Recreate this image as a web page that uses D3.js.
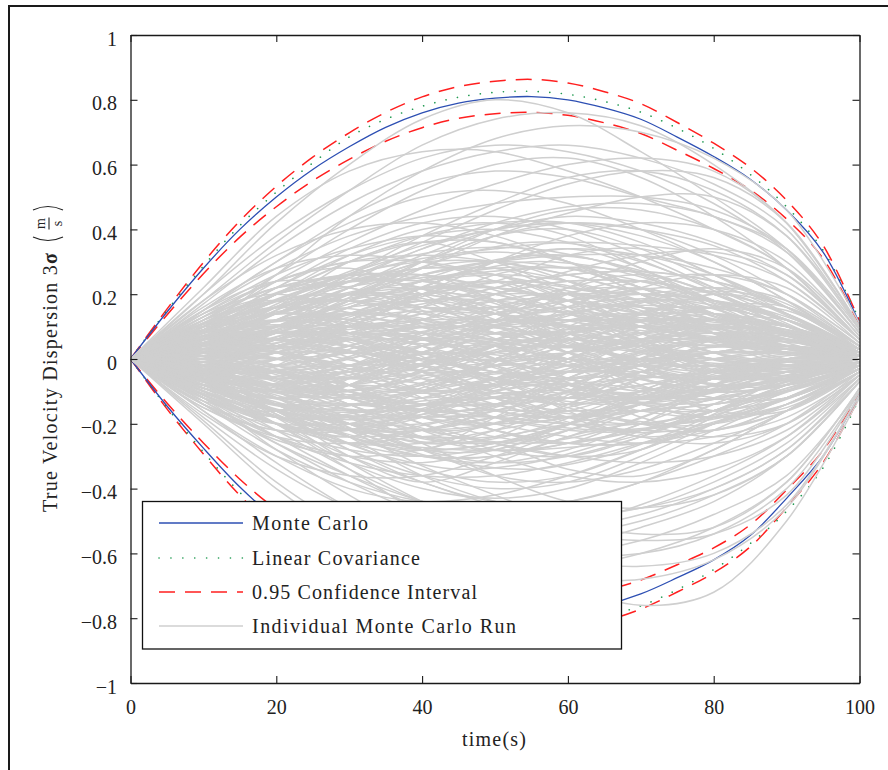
<!DOCTYPE html>
<html>
<head>
<meta charset="utf-8">
<script src="https://cdn.jsdelivr.net/npm/d3@7"></script>
<style>
  body { margin: 0; background: #fff; }
  svg { display: block; font-family: "Liberation Serif", "Times New Roman", serif; }
</style>
</head>
<body>
<svg id="chart" width="888" height="770"></svg>
<script>
// ---- data -------------------------------------------------------------
// 3-sigma curves sampled every 5 s (m/s)
const timeS = [0,5,10,15,20,25,30,35,40,45,50,55,60,65,70,75,80,85,90,95,100];
const monteCarloUpper = [0,0.145,0.28,0.40,0.50,0.585,0.655,0.715,0.76,0.79,0.805,0.81,0.80,0.775,0.74,0.685,0.625,0.555,0.46,0.33,0.11];
const monteCarloLower = [0,-0.145,-0.275,-0.395,-0.495,-0.58,-0.65,-0.705,-0.75,-0.775,-0.79,-0.79,-0.78,-0.76,-0.725,-0.675,-0.62,-0.545,-0.43,-0.30,-0.11];
const linearCovariance = [0,0.15,0.287,0.412,0.515,0.605,0.685,0.74,0.78,0.808,0.823,0.826,0.817,0.795,0.762,0.712,0.65,0.57,0.47,0.336,0.12];
const ciUpperOuter = [0,0.154,0.298,0.426,0.533,0.623,0.698,0.761,0.809,0.841,0.857,0.863,0.852,0.825,0.788,0.730,0.666,0.591,0.490,0.351,0.117];
const ciUpperInner = [0,0.136,0.263,0.376,0.470,0.550,0.616,0.672,0.714,0.743,0.757,0.761,0.752,0.729,0.696,0.644,0.588,0.522,0.432,0.310,0.103];
const ciLowerOuter = [0,-0.154,-0.293,-0.421,-0.527,-0.618,-0.692,-0.751,-0.799,-0.825,-0.841,-0.841,-0.831,-0.809,-0.772,-0.719,-0.660,-0.580,-0.458,-0.320,-0.117];
const ciLowerInner = [0,-0.136,-0.259,-0.371,-0.465,-0.545,-0.611,-0.663,-0.705,-0.729,-0.743,-0.743,-0.733,-0.714,-0.682,-0.635,-0.583,-0.512,-0.404,-0.282,-0.103];

// individual runs (batch A): every run starts at 0 at t = 0, then one value
// every 10 s from t = 10 to t = 100, in hundredths of m/s
const runTimesA = [0,10,20,30,40,50,60,70,80,90,100];
const runsA = [
  [8,18,27,35,40,42,40,35,24,6],[-6,-14,-20,-22,-20,-15,-10,-6,-3,-1],[12,22,25,22,15,6,-2,-8,-8,-2],
  [-10,-20,-30,-38,-45,-48,-46,-40,-28,-7],[3,5,10,16,22,26,27,24,17,4],[-2,-6,-4,2,10,18,24,26,20,5],
  [15,30,42,50,52,48,40,30,18,3],[-14,-25,-30,-28,-22,-14,-6,0,3,1],[5,8,6,0,-8,-15,-20,-20,-14,-3],
  [0,3,8,14,18,18,14,8,3,0],[-5,-12,-22,-33,-42,-50,-54,-52,-38,-9],[9,14,12,8,5,4,6,8,7,2],
  [-8,-10,-6,0,6,10,10,6,2,0],[20,38,52,62,66,64,58,48,33,8],[-18,-34,-46,-53,-55,-52,-45,-36,-24,-5],
  [4,12,22,30,33,30,22,13,6,1],[-3,-2,4,12,20,27,32,33,26,6],[7,10,8,2,-6,-14,-20,-24,-20,-5],
  [-11,-18,-17,-12,-6,-2,0,0,-1,0],[2,-3,-10,-18,-24,-26,-22,-16,-9,-2],[13,20,26,31,34,36,35,32,24,6],
  [-4,-9,-11,-8,-2,4,8,10,8,2],[6,15,25,34,42,47,48,44,33,8],[-9,-20,-32,-40,-43,-40,-32,-22,-12,-2],
  [1,0,-3,-5,-4,0,5,9,9,3],[10,16,18,16,10,2,-6,-12,-12,-3],[-15,-24,-26,-22,-18,-16,-16,-16,-12,-3],
  [3,9,18,28,38,45,50,50,38,10],[-7,-17,-28,-36,-40,-38,-30,-20,-10,-2],[8,12,14,17,22,26,27,24,16,4],
  [-2,-4,-8,-14,-20,-24,-26,-24,-18,-5],[16,28,32,30,24,16,8,2,-1,0],[-12,-22,-28,-30,-27,-20,-11,-3,1,1],
  [5,10,17,22,24,21,15,8,2,0],[-6,-8,-5,2,12,22,30,34,28,7],[11,24,36,46,54,60,62,58,42,10],
  [-13,-26,-38,-48,-56,-62,-64,-60,-45,-11],[0,-4,-10,-14,-14,-10,-4,2,4,1],[7,14,20,24,26,24,18,10,4,1],
  [-4,-10,-18,-24,-26,-22,-14,-6,-1,0],[9,18,24,24,18,10,4,2,2,1],[-9,-16,-20,-20,-15,-6,4,12,12,3],
  [2,8,16,24,28,28,24,18,12,3],[-1,-6,-14,-22,-30,-36,-38,-34,-24,-6],[14,24,30,32,30,26,20,14,8,2],
  [-16,-30,-40,-44,-42,-36,-28,-20,-12,-3],[6,6,2,-4,-10,-12,-10,-6,-2,0],[-3,2,10,20,30,38,42,40,30,7],
  [10,22,34,42,44,40,32,22,12,2],[-10,-22,-34,-44,-50,-52,-48,-40,-28,-6],[4,4,2,0,0,2,4,4,2,0],
  [-5,-14,-24,-30,-32,-28,-20,-12,-5,-1],[12,26,40,52,60,62,56,44,28,6],[-12,-18,-18,-14,-8,-4,-2,-2,-2,0],
  [1,6,14,20,22,18,10,2,-4,-2],[-7,-12,-14,-12,-6,2,10,16,16,4],[8,20,32,40,42,38,28,18,8,1],
  [-8,-18,-26,-30,-30,-26,-22,-18,-12,-3],[5,12,22,32,40,44,42,36,26,6],[-2,-8,-16,-26,-36,-44,-46,-42,-30,-7],
  [18,32,40,42,38,30,20,10,3,0],[-17,-30,-36,-36,-30,-22,-14,-8,-4,-1],[3,2,-2,-6,-8,-6,-2,2,4,1],
  [6,12,14,12,8,8,12,16,15,4],[-6,-10,-10,-6,-2,-2,-6,-12,-12,-3],[9,20,30,36,36,30,22,14,8,2],
  [-11,-24,-36,-46,-52,-54,-50,-42,-30,-7],[2,10,20,30,38,42,40,32,20,4],[-4,-6,-4,0,4,6,4,0,-3,-1],
  [13,22,26,26,22,18,16,14,10,2],[-14,-28,-38,-44,-46,-44,-38,-30,-20,-4],[7,16,26,36,46,54,58,56,42,10],
  [-1,2,6,8,6,0,-8,-16,-16,-4],[4,10,14,16,14,10,6,4,3,1],[-9,-14,-16,-14,-12,-12,-14,-16,-12,-3],
  [10,14,12,6,0,-6,-10,-10,-6,-1],[-5,-16,-28,-38,-44,-44,-38,-28,-16,-3],[15,28,38,44,48,50,50,46,34,8],
  [-15,-22,-22,-16,-8,0,6,8,6,1],[0,4,12,22,30,34,32,26,16,3],[-3,-10,-20,-28,-32,-30,-24,-16,-8,-1],
  [11,18,20,18,14,12,12,12,9,2],[-10,-20,-26,-26,-22,-18,-16,-14,-10,-2],[6,14,24,34,40,42,38,30,18,4],
  [-7,-16,-26,-34,-38,-36,-28,-18,-8,-1],[2,-2,-8,-16,-22,-26,-26,-22,-16,-4],[8,16,20,20,16,10,4,0,-2,-1],
  [-12,-20,-22,-18,-10,0,8,12,10,2],[5,14,26,38,48,56,58,52,38,9],[-6,-18,-32,-44,-54,-60,-60,-54,-40,-10],
  [1,4,6,6,4,0,-2,-2,-1,0],[-2,-4,-4,-2,2,6,10,12,10,3],[14,26,34,38,36,30,22,14,6,1],
  [-13,-24,-30,-32,-28,-22,-16,-10,-6,-1],[9,20,30,38,42,42,36,26,16,3],[-8,-16,-22,-24,-20,-12,-4,2,4,1],
  [4,8,8,4,-2,-8,-14,-18,-15,-4],[-4,-8,-8,-4,4,14,22,26,22,5],[17,34,48,58,64,66,62,54,40,9],
  [-16,-32,-46,-56,-62,-64,-60,-52,-38,-9],[3,6,10,12,12,10,8,6,4,1],[-3,-8,-12,-14,-14,-12,-8,-4,-2,0],
  [7,12,16,18,20,20,18,14,9,2],[-6,-10,-12,-10,-6,-4,-4,-6,-6,-2],[0,-2,-2,2,8,14,18,18,13,3],
  [5,8,10,10,8,4,0,-4,-5,-1],[-8,-12,-14,-16,-18,-20,-20,-16,-10,-2],[2,6,4,-2,-10,-18,-24,-26,-20,-5],
  [-1,2,8,14,16,14,10,6,4,1],[9,16,18,14,8,2,-2,-4,-3,-1],[-10,-18,-22,-22,-18,-12,-8,-6,-4,-1],
  [4,2,-4,-10,-16,-18,-16,-10,-4,0],[-2,0,6,10,12,12,10,10,8,2],[6,10,10,8,6,6,8,10,8,2],
  [-5,-6,-2,4,8,8,4,-2,-6,-2],[1,-4,-12,-18,-20,-18,-12,-6,-2,0],[11,20,24,24,20,14,10,6,3,1],
  [-11,-20,-24,-22,-16,-10,-6,-4,-2,0],[3,10,18,22,22,18,14,12,10,3],[-4,-12,-20,-24,-24,-20,-16,-14,-10,-2],
  [8,10,6,0,-4,-6,-4,0,2,1],[-7,-10,-8,-2,4,8,10,8,4,1],[2,4,8,14,20,24,24,20,12,2],
  [-3,-6,-10,-16,-22,-26,-26,-20,-12,-3],[6,16,24,28,28,24,16,8,2,0],[-9,-14,-14,-10,-4,2,6,6,4,1],
  [0,2,2,0,-4,-10,-16,-18,-14,-4],[12,18,18,14,12,12,14,14,10,2],[-12,-24,-32,-36,-36,-32,-26,-20,-14,-3],
  [5,12,20,26,30,32,32,28,20,5],[-2,-2,2,8,14,18,20,18,12,2],[7,8,4,-4,-12,-18,-20,-16,-10,-2],
  [-6,-16,-24,-28,-26,-20,-12,-4,0,0],[10,22,32,38,40,36,30,22,14,3],[-1,-4,-8,-10,-8,-4,2,6,6,2],
  [4,6,4,2,2,4,2,-2,-4,-1],[-8,-14,-18,-22,-26,-30,-32,-30,-22,-5],[3,8,14,18,18,14,6,-2,-6,-2],
  [-5,-10,-12,-8,0,10,18,22,18,4],[13,24,30,30,26,22,20,18,12,3],[-14,-20,-20,-18,-18,-20,-22,-22,-16,-4],
  [2,8,18,30,40,46,46,40,28,6],[-3,-12,-24,-36,-44,-48,-46,-38,-26,-6],[6,8,8,10,14,18,20,18,12,3],
  [-4,-4,-2,-2,-6,-10,-12,-10,-6,-1],[8,18,26,30,30,26,20,12,4,0],[-10,-16,-18,-16,-12,-8,-6,-4,-3,-1],
  [1,0,2,6,10,12,12,8,4,1],[-6,-14,-18,-18,-14,-8,-2,2,2,0],[9,12,10,6,2,0,0,2,2,1],
  [20,42,60,74,80,76,64,50,34,8],[18,36,52,66,74,76,72,60,42,10],[-8,-20,-34,-48,-60,-70,-76,-72,-50,-12],
  [-19,-38,-52,-60,-62,-58,-52,-44,-30,-7],[22,44,58,64,64,58,50,40,28,6],[-20,-40,-54,-62,-66,-68,-68,-62,-46,-11],
  [10,26,44,58,68,72,70,62,46,11],[-12,-28,-42,-54,-60,-60,-56,-48,-36,-10],[15,30,44,54,58,56,50,44,34,9],
  [-14,-26,-36,-44,-50,-54,-56,-54,-42,-10],
  [6,4,10,18,14,6,12,20,14,3],[-5,2,-4,-12,-6,4,-2,-10,-8,-2],[10,4,-6,-2,10,16,8,-4,-6,-1],
  [-8,-2,8,4,-8,-14,-6,6,6,1],[4,14,10,0,4,16,22,14,4,0],[-3,-12,-8,4,10,2,-10,-14,-6,-1],
  [12,18,8,-4,-8,2,14,18,10,2],[-12,-16,-6,6,12,8,-2,-8,-6,-2],[2,10,20,18,8,4,10,16,12,3],
  [-2,-10,-20,-16,-6,-8,-18,-22,-14,-3],[7,2,-8,-18,-20,-10,2,6,2,0],[-6,0,10,20,24,16,4,-2,-4,-1],
  [3,12,22,26,18,6,0,4,6,2],[-4,-14,-24,-28,-18,-6,0,-4,-6,-1],[9,20,26,22,24,32,34,26,14,3],
  [-10,-20,-26,-24,-26,-34,-36,-28,-16,-4],[5,0,6,16,26,28,20,8,0,-1],[-4,4,-2,-12,-22,-26,-20,-8,0,1],
  [1,8,4,-4,-2,8,12,6,-2,-1],[-1,-6,-2,6,4,-6,-12,-8,0,1],[14,20,14,6,10,20,24,18,8,1],
  [-13,-16,-8,0,-6,-16,-24,-20,-12,-3],[6,16,30,36,30,22,20,22,16,4],[-7,-16,-30,-38,-32,-24,-20,-22,-14,-3],
  [2,-6,-14,-10,0,6,2,-6,-8,-2],[-2,6,14,12,4,-2,2,10,10,2],[8,10,16,24,26,18,6,-2,-2,0],
  [-9,-14,-20,-26,-24,-14,-4,2,4,1],[4,12,14,8,-2,-10,-12,-6,0,0],[-3,-8,-10,-4,4,12,14,10,4,1],
  [11,14,20,28,30,24,14,8,6,2],[-12,-18,-24,-30,-30,-24,-16,-12,-8,-2],[0,6,16,20,14,10,14,20,16,4],
  [1,-4,-12,-16,-10,-8,-14,-18,-12,-2],[5,2,-2,4,12,12,4,-4,-4,-1],[-6,-4,2,-2,-10,-12,-4,4,4,1],
  [13,24,28,20,10,8,12,12,6,1],[-12,-20,-24,-16,-8,-8,-12,-10,-4,0],[3,4,12,22,30,34,28,16,6,1],
  [-2,-6,-12,-20,-26,-30,-28,-18,-8,-1],[7,16,18,10,0,-4,0,6,6,1],[-8,-16,-18,-10,-2,0,-4,-10,-8,-2],
  [2,0,-8,-16,-14,-4,6,10,6,1],[-3,2,12,20,18,8,-2,-6,-4,0],[10,20,24,30,38,40,34,24,14,3],
  [-9,-16,-20,-28,-36,-38,-34,-26,-16,-4],[6,8,4,4,10,14,12,6,2,0],[-6,-8,-2,0,-6,-12,-12,-8,-2,0],
  [1,-2,-6,-4,2,4,0,-4,-2,0],[-1,4,8,6,0,-4,-2,2,2,1],[9,6,2,6,14,20,18,10,4,1],
  [-8,-4,2,-2,-12,-16,-14,-8,-2,0],[4,10,18,26,28,20,10,2,-2,-1],[-5,-10,-20,-28,-28,-20,-10,-2,0,0],
  [12,22,22,16,16,22,26,20,10,2],[-11,-18,-18,-14,-14,-20,-22,-16,-6,-1],[3,-2,-10,-20,-28,-30,-24,-14,-6,-1],
  [-2,4,12,22,30,32,26,16,8,2],[8,12,10,12,18,20,14,6,2,0],[-7,-10,-8,-10,-16,-18,-14,-6,0,0],
  [5,10,6,-2,-6,-2,6,12,10,3],[-4,-8,-4,2,6,2,-6,-10,-8,-2],[2,8,18,26,30,28,22,14,8,2],
  [-1,-6,-14,-24,-28,-26,-18,-10,-4,0],[10,16,12,4,-2,2,10,14,10,2],[-9,-12,-8,0,4,0,-6,-10,-6,-1],
  [6,2,4,12,20,24,24,20,12,3],[-5,0,-2,-10,-18,-22,-22,-16,-8,-1],[0,4,6,2,-4,-6,-4,0,2,1],
  [0,-4,-6,-2,4,6,4,0,-2,-1],[15,24,22,16,14,16,16,12,6,1],[-14,-22,-20,-14,-12,-14,-12,-8,-2,0],
  [4,6,12,20,24,20,12,8,6,2],[-3,-4,-10,-16,-20,-16,-10,-6,-4,-1],[7,14,22,28,26,18,12,10,8,2],
  [-8,-16,-22,-28,-26,-20,-14,-12,-10,-3],[2,6,2,-6,-14,-18,-14,-6,0,0],[-1,-4,0,8,16,20,16,8,2,0],
  [11,16,20,22,20,14,6,0,-2,0],[-10,-14,-16,-18,-16,-10,-2,4,4,1]
];

// individual runs (batch B): saved on an offset grid, t = 5, 15, ..., 95, 100 s
const runTimesB = [0,5,15,25,35,45,55,65,75,85,95,100];
const runsB = [
  [3,10,18,22,20,14,10,8,8,4,1],[-4,-8,-6,0,8,14,14,8,2,-2,-1],[2,6,4,-4,-12,-18,-16,-8,0,2,1],
  [-2,-10,-18,-24,-26,-22,-14,-6,-2,0,0],[5,14,20,18,12,10,14,20,20,10,3],[-5,-12,-14,-8,2,8,6,0,-6,-6,-2],
  [1,4,10,18,26,30,28,22,14,6,1],[-1,2,4,0,-8,-16,-22,-22,-16,-8,-2],[4,12,14,6,-4,-8,-4,4,8,6,2],
  [-3,-6,-12,-20,-22,-16,-6,2,4,2,0],[2,8,16,20,16,8,2,-2,-2,0,0],[-6,-16,-22,-20,-14,-10,-10,-12,-12,-6,-1],
  [0,-4,-10,-12,-6,4,12,16,14,6,1],[3,6,6,8,12,18,22,20,14,6,1],[-2,-4,-2,4,10,12,8,2,-2,-2,0],
  [5,12,22,30,34,34,30,24,16,8,2],[-4,-12,-22,-30,-34,-32,-26,-18,-10,-4,-1],[1,-2,-8,-14,-16,-12,-4,4,8,6,2],
  [-1,2,8,14,14,8,0,-6,-8,-4,-1],[4,8,8,2,-2,2,10,16,14,6,1],[-3,-8,-14,-16,-12,-8,-8,-10,-8,-4,-1],
  [2,8,12,12,10,12,16,16,10,4,1],[-5,-14,-20,-22,-18,-10,-2,4,6,4,1],[6,16,24,26,22,14,6,0,-2,-2,0],
  [-2,-2,2,6,6,2,-4,-8,-8,-4,-1],[0,4,10,16,22,24,20,12,4,0,0],[-3,-10,-16,-18,-16,-16,-18,-20,-16,-8,-2],
  [2,2,-2,-8,-10,-6,0,4,4,2,0],[-1,-6,-10,-8,-2,6,12,14,10,4,1],[4,10,12,10,10,14,18,18,12,4,1],
  [-4,-10,-14,-14,-12,-12,-14,-12,-6,-2,0],[1,6,14,24,32,36,34,26,16,6,1],[-2,-8,-16,-26,-32,-34,-30,-22,-12,-4,-1],
  [3,4,0,-6,-8,-4,2,6,6,2,0],[-3,-4,0,6,10,8,2,-4,-6,-4,-1],[5,10,10,6,4,6,10,12,10,6,2],
  [-5,-10,-8,-4,-4,-8,-12,-12,-8,-4,-1],[2,10,20,26,24,18,12,8,6,4,1],[-2,-6,-14,-22,-26,-24,-16,-8,-2,0,0],
  [0,2,6,8,4,-4,-10,-12,-8,-2,0],[1,-2,-6,-4,2,10,16,18,14,6,1],[4,14,22,24,18,10,4,2,2,2,1],
  [-4,-12,-18,-18,-12,-6,-2,0,0,0,0],[3,6,12,20,28,32,30,22,12,4,1],[-1,-4,-10,-18,-24,-26,-22,-14,-6,-2,0],
  [2,4,2,-2,0,6,12,12,6,2,0],[-2,-4,-2,2,0,-6,-12,-14,-10,-4,-1],[6,14,16,12,8,8,10,10,8,4,1],
  [-6,-14,-16,-12,-6,-4,-4,-6,-6,-4,-1],[1,4,8,10,12,16,20,22,18,8,2],[-1,-4,-8,-12,-16,-20,-22,-20,-14,-6,-1],
  [3,8,8,4,0,0,4,6,4,2,0],[-3,-6,-4,0,2,0,-4,-6,-4,-2,0],[4,12,20,24,26,28,28,24,16,8,2],
  [-4,-12,-20,-26,-28,-28,-26,-20,-12,-6,-1],[0,-2,-6,-10,-10,-4,4,10,10,4,1],[2,6,12,14,10,2,-6,-10,-8,-4,-1],
  [-2,-8,-12,-10,-4,4,10,12,8,2,0],[5,12,16,14,8,4,4,8,10,6,2],[-5,-12,-16,-16,-12,-10,-12,-14,-10,-4,-1]
];

const xTicks = [0,20,40,60,80,100];
const yTicks = [-1,-0.8,-0.6,-0.4,-0.2,0,0.2,0.4,0.6,0.8,1];
const legendLabels = ["Monte Carlo","Linear Covariance","0.95 Confidence Interval","Individual Monte Carlo Run"];

// ---- layout ------------------------------------------------------------
const svg = d3.select("#chart");
const plot = { left: 130.5, right: 859.5, top: 35, bottom: 683 };
const x = d3.scaleLinear().domain([0, 100]).range([plot.left, plot.right]);
const y = d3.scaleLinear().domain([-1, 1]).range([plot.bottom, plot.top]);

const colors = { mc: "#2d4fb3", lin: "#1f9a50", ci: "#ff1f1f", run: "#cfcfcf", axis: "#1a1a1a" };
const serif = "'Liberation Serif', 'Times New Roman', serif";

// figure frame
svg.append("path")
  .attr("d", "M9,772 L9,6 L890,6")
  .attr("fill", "none").attr("stroke", "#1a1a1a").attr("stroke-width", 2);

svg.append("defs").append("clipPath").attr("id", "plotClip")
  .append("rect")
  .attr("x", plot.left).attr("y", plot.top)
  .attr("width", plot.right - plot.left).attr("height", plot.bottom - plot.top);

const body = svg.append("g").attr("clip-path", "url(#plotClip)");

const curve = (xs, ys) => d3.line()
  .x((d, i) => x(xs[i]))
  .y(d => y(d))
  .curve(d3.curveCatmullRom.alpha(0.5))(ys);

// envelope curves
const ciSeries = [ciUpperOuter, ciUpperInner, ciLowerOuter, ciLowerInner];
body.selectAll("path.ci").data(ciSeries).join("path")
  .attr("class", "ci")
  .attr("d", d => curve(timeS, d))
  .attr("fill", "none").attr("stroke", colors.ci)
  .attr("stroke-width", 1.5).attr("stroke-dasharray", "16,10");

body.selectAll("path.lin").data([linearCovariance, linearCovariance.map(v => -v)]).join("path")
  .attr("class", "lin")
  .attr("d", d => curve(timeS, d))
  .attr("fill", "none").attr("stroke", colors.lin)
  .attr("stroke-width", 1.6).attr("stroke-linecap", "round")
  .attr("stroke-dasharray", "0.1,11.5");

body.selectAll("path.mc").data([monteCarloUpper, monteCarloLower]).join("path")
  .attr("class", "mc")
  .attr("d", d => curve(timeS, d))
  .attr("fill", "none").attr("stroke", colors.mc).attr("stroke-width", 1.3);

// individual runs
const runPaths = [
  ...runsA.map(r => curve(runTimesA, [0, ...r].map(v => v / 100))),
  ...runsB.map(r => curve(runTimesB, [0, ...r].map(v => v / 100)))
];
body.selectAll("path.run").data(runPaths).join("path")
  .attr("class", "run")
  .attr("d", d => d)
  .attr("fill", "none").attr("stroke", colors.run).attr("stroke-width", 1.5);

// ---- axes (ticks point inward on all four sides) ----------------------
const fmt = d3.format("~g");
function styleAxis(g) {
  g.attr("font-family", serif);
  g.selectAll("path.domain").attr("stroke", colors.axis).attr("stroke-width", 1.3);
  g.selectAll(".tick line").attr("stroke", colors.axis).attr("stroke-width", 1.1);
  g.selectAll("text").attr("font-family", serif).attr("font-size", 20).attr("fill", "#222");
}
svg.append("g").attr("transform", `translate(0,${plot.bottom})`)
  .call(d3.axisBottom(x).tickValues(xTicks).tickFormat(fmt).tickSizeInner(-7).tickSizeOuter(0))
  .call(styleAxis)
  .call(g => g.selectAll("text").attr("y", 31).attr("dy", 0));
svg.append("g").attr("transform", `translate(0,${plot.top})`)
  .call(d3.axisTop(x).tickValues(xTicks).tickFormat("").tickSizeInner(-7).tickSizeOuter(0))
  .call(styleAxis);
svg.append("g").attr("transform", `translate(${plot.left},0)`)
  .call(d3.axisLeft(y).tickValues(yTicks).tickFormat(fmt).tickSizeInner(-7).tickSizeOuter(0))
  .call(styleAxis)
  .call(g => g.selectAll("text").attr("x", -13.5).attr("dy", 10));
svg.append("g").attr("transform", `translate(${plot.right},0)`)
  .call(d3.axisRight(y).tickValues(yTicks).tickFormat("").tickSizeInner(-7).tickSizeOuter(0))
  .call(styleAxis);

// ---- axis titles --------------------------------------------------------
svg.append("text")
  .attr("x", 494).attr("y", 746)
  .attr("text-anchor", "middle").attr("font-family", serif).attr("font-size", 20).attr("fill", "#222")
  .attr("textLength", 64).attr("lengthAdjust", "spacing")
  .text("time(s)");

const yTitle = svg.append("g").attr("transform", "translate(57,357) rotate(-90)")
  .attr("fill", "#222").attr("font-family", serif);
const yMain = yTitle.append("text").attr("x", -155).attr("y", 0).attr("font-size", 20)
  .attr("textLength", 259).attr("lengthAdjust", "spacing");
yMain.append("tspan").text("True Velocity Dispersion 3");
yMain.append("tspan").attr("font-weight", "bold").text("σ");
// (m/s) drawn as a built-up fraction between tall parentheses
const pOpen = 116, pClose = 151, fracMid = 133.5;
yTitle.append("path").attr("d", `M${pOpen + 4},-24 Q${pOpen - 3},-9 ${pOpen + 4},6`)
  .attr("fill", "none").attr("stroke", "#222").attr("stroke-width", 1.1);
yTitle.append("path").attr("d", `M${pClose - 4},-24 Q${pClose + 3},-9 ${pClose - 4},6`)
  .attr("fill", "none").attr("stroke", "#222").attr("stroke-width", 1.1);
yTitle.append("text").attr("x", fracMid).attr("y", -12).attr("text-anchor", "middle").attr("font-size", 14).text("m");
yTitle.append("line").attr("x1", fracMid - 6).attr("x2", fracMid + 6).attr("y1", -8).attr("y2", -8)
  .attr("stroke", "#222").attr("stroke-width", 1.1);
yTitle.append("text").attr("x", fracMid).attr("y", 5).attr("text-anchor", "middle").attr("font-size", 14).text("s");

// ---- legend -------------------------------------------------------------
const legend = svg.append("g").attr("font-family", serif);
legend.append("rect")
  .attr("x", 142.5).attr("y", 501.5).attr("width", 479).attr("height", 147.5)
  .attr("fill", "#fff").attr("stroke", "#111").attr("stroke-width", 1.3);
const rowY = [523, 558, 592, 626];
const sampleStyle = [
  { stroke: colors.mc, width: 1.3, dash: null, cap: "butt" },
  { stroke: colors.lin, width: 1.6, dash: "0.1,11.8", cap: "round" },
  { stroke: colors.ci, width: 1.5, dash: "16,10", cap: "butt" },
  { stroke: colors.run, width: 1.3, dash: null, cap: "butt" }
];
const labelWidths = [116, 168, 225, 264];
legendLabels.forEach((label, i) => {
  const s = sampleStyle[i];
  legend.append("line")
    .attr("x1", 159).attr("x2", 243).attr("y1", rowY[i]).attr("y2", rowY[i])
    .attr("stroke", s.stroke).attr("stroke-width", s.width)
    .attr("stroke-dasharray", s.dash).attr("stroke-linecap", s.cap);
  legend.append("text")
    .attr("x", 252).attr("y", rowY[i] + 7)
    .attr("font-size", 20).attr("fill", "#222")
    .attr("textLength", labelWidths[i]).attr("lengthAdjust", "spacing")
    .text(label);
});
</script>
</body>
</html>
